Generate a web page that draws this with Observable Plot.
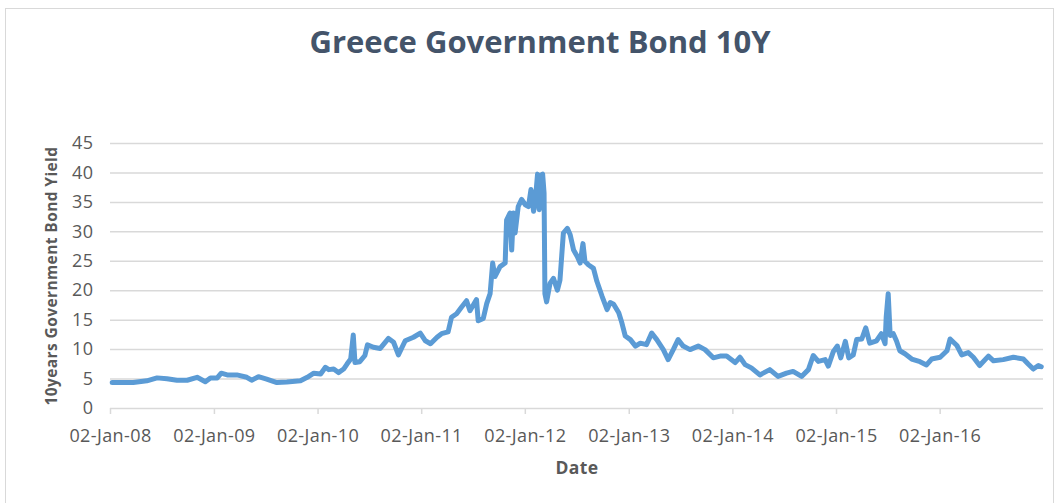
<!DOCTYPE html>
<html><head><meta charset="utf-8">
<script src="https://cdn.jsdelivr.net/npm/d3@7"></script>
<script src="https://cdn.jsdelivr.net/npm/@observablehq/plot@0.6"></script>
<style>
body{margin:0;background:#fff;}
#wrap{position:relative;width:1059px;height:503px;overflow:hidden;font-family:"Open Sans",sans-serif;background:#fff;}
#frame{position:absolute;left:5px;top:8px;width:1049px;height:540px;border:1.5px solid #d9d9d9;box-sizing:border-box;}
#title{position:absolute;left:0;width:1080px;top:26px;text-align:center;font-size:31px;line-height:31px;font-weight:700;color:#44546a;}
#chart{position:absolute;left:0;top:120px;}
#chart svg text{letter-spacing:0.4px;}
</style></head>
<body>
<div id="wrap">
  <div id="frame"></div>
  <div id="title">Greece Government Bond 10Y</div>
  <div id="chart"></div>
</div>
<script>
const dates = [
"2008-01-08","2008-03-22","2008-05-09","2008-06-14","2008-07-19","2008-08-23","2008-09-28","2008-11-02","2008-12-01","2008-12-19",
"2009-01-12","2009-01-26","2009-02-16","2009-03-22","2009-04-26","2009-05-13","2009-06-06","2009-07-05","2009-08-10","2009-09-14","2009-11-01","2009-11-25","2009-12-18",
"2010-01-11","2010-01-28","2010-02-09","2010-02-26","2010-03-15","2010-04-02","2010-04-14","2010-04-27","2010-05-06","2010-05-12","2010-05-29","2010-06-16","2010-06-25","2010-07-16","2010-08-09","2010-09-07","2010-09-25","2010-10-12","2010-11-05","2010-12-04","2010-12-28",
"2011-01-15","2011-02-02","2011-02-25","2011-03-13","2011-04-05","2011-04-17","2011-05-05","2011-05-22","2011-06-09","2011-06-21","2011-07-14","2011-07-20","2011-08-07","2011-08-19","2011-08-31","2011-09-09","2011-09-17","2011-10-05","2011-10-23","2011-10-28","2011-11-09","2011-11-15","2011-11-21","2011-11-27","2011-12-08","2011-12-20",
"2012-01-02","2012-01-13","2012-01-22","2012-01-31","2012-02-06","2012-02-14","2012-02-20","2012-02-26","2012-03-03","2012-03-08","2012-03-11","2012-03-17","2012-03-29","2012-04-10","2012-04-24","2012-05-03","2012-05-15","2012-05-29","2012-06-08","2012-06-20","2012-07-03","2012-07-13","2012-07-23","2012-07-30","2012-08-11","2012-08-29","2012-09-10","2012-09-28","2012-10-16","2012-10-27","2012-11-08","2012-11-26","2012-12-07","2012-12-19",
"2013-01-06","2013-01-24","2013-02-10","2013-03-04","2013-03-22","2013-04-09","2013-05-02","2013-05-19","2013-06-06","2013-06-23","2013-07-11","2013-08-04","2013-09-02","2013-09-26","2013-10-25","2013-11-18","2013-12-11",
"2014-01-10","2014-01-27","2014-02-14","2014-03-08","2014-04-07","2014-05-12","2014-06-10","2014-07-10","2014-08-02","2014-09-01","2014-09-25","2014-10-12","2014-10-30","2014-11-23","2014-12-04","2014-12-22",
"2015-01-05","2015-01-17","2015-02-02","2015-02-14","2015-03-02","2015-03-14","2015-04-01","2015-04-15","2015-04-29","2015-05-23","2015-06-09","2015-06-22","2015-06-26","2015-07-03","2015-07-10","2015-07-21","2015-08-01","2015-08-13","2015-08-31","2015-09-24","2015-10-23","2015-11-15","2015-12-03",
"2016-01-02","2016-01-26","2016-02-06","2016-03-01","2016-03-18","2016-04-10","2016-04-28","2016-05-20","2016-06-20","2016-07-08","2016-08-11","2016-09-16","2016-10-21","2016-11-07","2016-11-25","2016-12-13","2016-12-23"
];
const yields = [
4.4,4.4,4.7,5.2,5.05,4.8,4.8,5.3,4.55,5.2,
5.2,6.0,5.7,5.7,5.3,4.8,5.4,5.0,4.4,4.5,4.7,5.3,6.0,
5.85,7.0,6.6,6.7,6.1,6.7,7.55,8.4,12.5,7.8,7.95,9.0,10.8,10.4,10.2,11.9,11.25,9.1,11.5,12.1,12.8,
11.5,11.0,12.1,12.7,13.0,15.5,16.1,17.2,18.3,16.6,18.5,14.9,15.3,17.8,19.5,24.7,22.4,24.1,24.7,32.0,33.2,26.9,33.2,29.8,34.3,35.5,
34.6,34.3,37.2,33.5,35.2,39.8,33.75,39.6,39.8,36.6,19.5,18.1,21.25,22.1,20.1,21.8,29.8,30.6,29.5,26.9,25.8,24.7,28.0,25.0,24.4,23.8,21.6,19.1,16.8,18.0,17.7,16.25,14.55,12.3,
11.7,10.6,11.1,10.85,12.8,11.7,10.0,8.3,10.0,11.7,10.6,10.0,10.6,10.0,8.6,8.9,8.9,
7.8,8.7,7.45,6.9,5.7,6.6,5.45,6.0,6.3,5.45,6.6,9.0,8.0,8.3,7.2,9.7,
10.6,8.6,11.4,8.6,9.1,11.7,11.8,13.7,11.1,11.5,12.7,11.0,15.5,19.5,12.4,12.7,11.5,9.8,9.3,8.4,7.95,7.4,8.4,
8.7,9.8,11.8,10.7,9.1,9.5,8.7,7.3,8.9,8.1,8.3,8.7,8.4,7.55,6.7,7.3,7.1
];
const xTickDates = ["2008-01-02","2009-01-02","2010-01-02","2011-01-02","2012-01-02","2013-01-02","2014-01-02","2015-01-02","2016-01-02"];
const yTickValues = [0,5,10,15,20,25,30,35,40,45];
const xDomain = ["2008-01-02","2016-12-31"];
const xTitle = "Date";
const yTitle = "10years Government Bond Yield";

const data = dates.map((d, i) => ({date: new Date(d), value: yields[i]}));
const fmt = d3.utcFormat("%d-%b-%y");

const chart = Plot.plot({
  width: 1059,
  height: 383,
  marginLeft: 110,
  marginRight: 16,
  marginTop: 23,
  marginBottom: 95,
  style: {fontFamily: "'Open Sans', sans-serif", fontSize: "18px", color: "#595959", background: "transparent", overflow: "visible"},
  x: {type: "utc", domain: xDomain.map(d => new Date(d))},
  y: {domain: [0, 45]},
  marks: [
    Plot.ruleY(yTickValues, {stroke: "#d9d9d9", strokeWidth: 1.5}),
    Plot.axisX({ticks: xTickDates.map(d => new Date(d)), tickFormat: fmt, tickSize: 6, tickPadding: 15, stroke: "#d9d9d9", strokeWidth: 1.5, fill: "#595959", label: null}),
    Plot.axisY({ticks: yTickValues, tickSize: 0, tickPadding: 17, fill: "#595959", label: null}),
    Plot.line(data, {x: "date", y: "value", stroke: "#5b9bd5", strokeWidth: 5, strokeLinejoin: "round", strokeLinecap: "round"}),
    Plot.text([xTitle], {text: d => d, frameAnchor: "bottom", dy: 65, fontWeight: 700, fontSize: 17.5, fill: "#595959"}),
    Plot.text([yTitle], {text: d => d, frameAnchor: "left", textAnchor: "middle", dx: -58, rotate: -90, fontWeight: 700, fontSize: 15.5, fill: "#595959"})
  ]
});
document.getElementById("chart").appendChild(chart);
</script>
</body></html>
